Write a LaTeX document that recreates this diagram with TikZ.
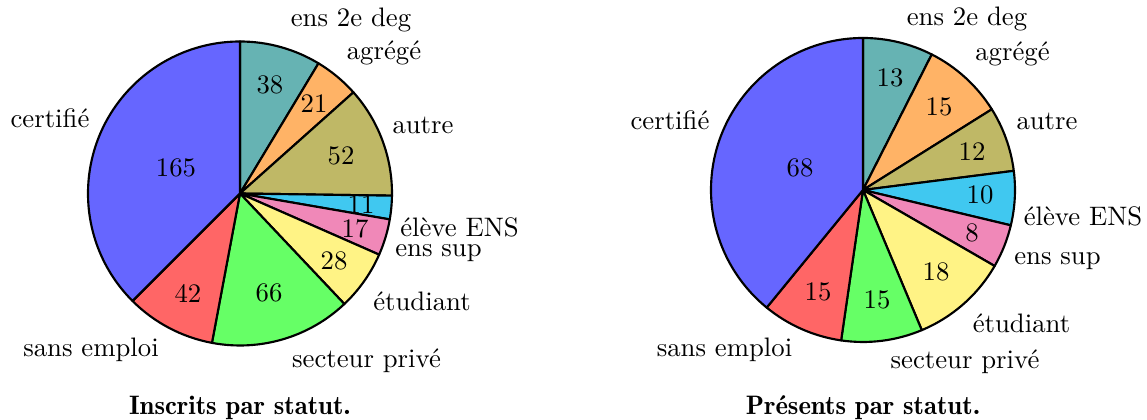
\documentclass[tikz,border=0pt]{standalone}
\usepackage{fontspec}
\definecolor{cteal}{HTML}{66B3B3}
\definecolor{corange}{HTML}{FFB366}
\definecolor{colive}{HTML}{BFB866}
\definecolor{ccyan}{HTML}{40C8F0}
\definecolor{cpink}{HTML}{F088B8}
\definecolor{cyellow}{HTML}{FFF385}
\definecolor{cgreen}{HTML}{66FF66}
\definecolor{cred}{HTML}{FF6666}
\definecolor{cblue}{HTML}{6666FF}
\begin{document}
\begin{tikzpicture}[x=0.01316cm,y=0.01316cm,
  slice/.style={draw=black,line width=0.8pt,line join=round},
  num/.style={inner sep=0pt},
  lab/.style={inner sep=0pt},
  ttl/.style={inner sep=0pt,font=\fontseries{b}\selectfont}]
\useasboundingbox (0,0) rectangle (1147,420);
% ---------- left pie ----------
\coordinate (L) at (240,226.5);
\def\R{152}
\foreach \a/\b/\c in {90/58.909/cteal, 58.909/41.727/corange, 41.727/-0.818/colive,
  -0.818/-9.818/ccyan, -9.818/-23.727/cpink, -23.727/-46.636/cyellow,
  -46.636/-100.636/cgreen, -100.636/-135/cred, -135/-270/cblue}{
  \filldraw[slice,fill=\c] (L) -- ++(\a:\R) arc[start angle=\a,end angle=\b,radius=\R] -- cycle;
}
\node[num] (l1) at (270,335) {38};
\node[num] (l2) at (314,316) {21};
\node[num] (l3) at (341,264) {52};
\node[num] (l4) at (361,215) {11};
\node[num] (l5) at (355,191) {17};
\node[num] (l6) at (334,159) {28};
\node[num] (l7) at (269,127) {66};
\node[num] (l8) at (188,127) {42};
\node[num] (l9) at (176,252) {165};
\node[lab] (la1) at (351,400) {ens 2e deg};
\node[lab] (la2) at (384,367) {agrégé};
\node[lab] (la3) at (423,295) {autre};
\node[lab] (la4) at (459.5,193) {élève ENS};
\node[lab] (la5) at (438.5,167) {ens sup};
\node[lab] (la6) at (422,119) {étudiant};
\node[lab] (la7) at (366.5,59) {secteur privé};
\node[lab] (la8) at (91,70) {sans emploi};
\node[lab] (la9) at (50,302) {certifié};
\node[ttl] (lt) at (240,12) {Inscrits par statut.};
% ---------- right pie ----------
\coordinate (P) at (863,230);
\foreach \a/\b/\c in {90/63.103/cteal, 63.103/32.069/corange, 32.069/7.241/colive,
  7.241/-13.448/ccyan, -13.448/-30/cpink, -30/-67.241/cyellow,
  -67.241/-98.276/cgreen, -98.276/-129.310/cred, -129.310/-270/cblue}{
  \filldraw[slice,fill=\c] (P) -- ++(\a:\R) arc[start angle=\a,end angle=\b,radius=\R] -- cycle;
}
\node[num] (r1) at (890,342) {13};
\node[num] (r2) at (939,313) {15};
\node[num] (r3) at (972,268) {12};
\node[num] (r4) at (980,225) {10};
\node[num] (r5) at (972,187) {8};
\node[num] (r6) at (936,148) {18};
\node[num] (r7) at (877,120) {15};
\node[num] (r8) at (818,128) {15};
\node[num] (r9) at (800,252) {68};
\node[lab] (ra1) at (967,401) {ens 2e deg};
\node[lab] (ra2) at (1012.5,366) {agrégé};
\node[lab] (ra3) at (1047,299) {autre};
\node[lab] (ra4) at (1083,204) {élève ENS};
\node[lab] (ra5) at (1057.5,159) {ens sup};
\node[lab] (ra6) at (1021.5,97) {étudiant};
\node[lab] (ra7) at (965,58) {secteur privé};
\node[lab] (ra8) at (724.5,70) {sans emploi};
\node[lab] (ra9) at (670,300) {certifié};
\node[ttl] (rt) at (863,12) {Présents par statut.};
\end{tikzpicture}
\end{document}
